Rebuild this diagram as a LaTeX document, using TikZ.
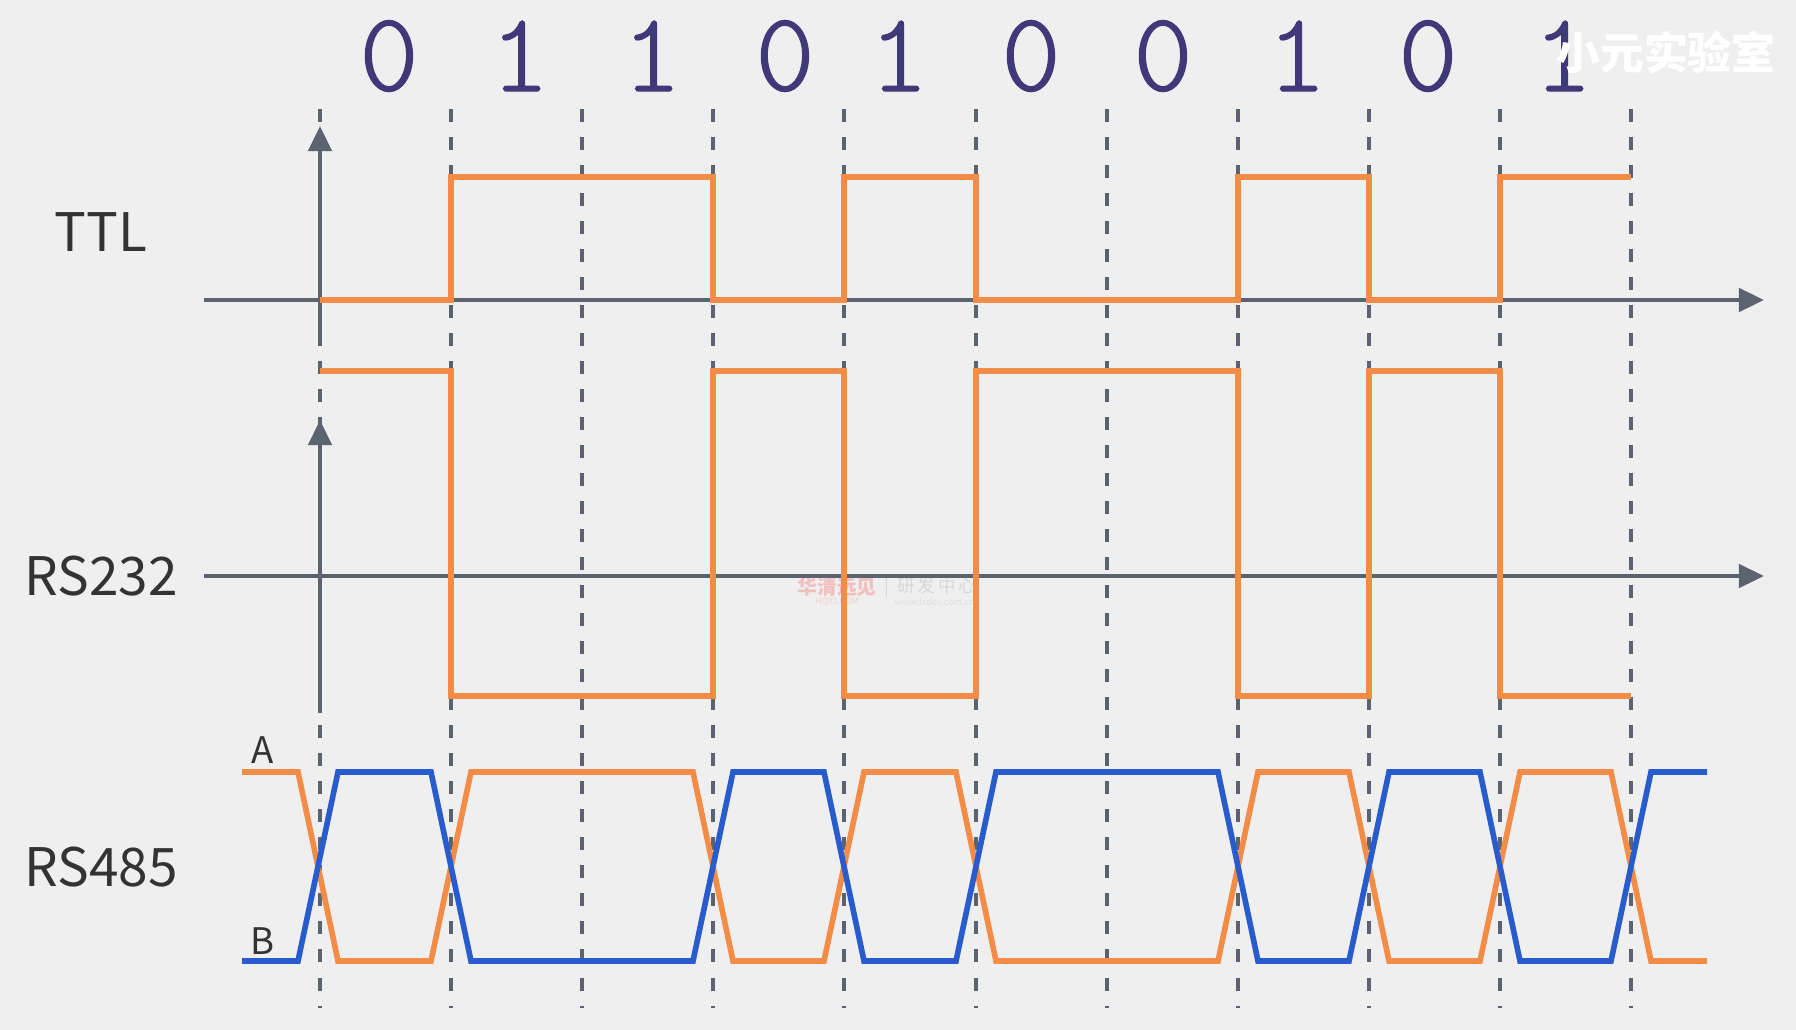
\documentclass[tikz,border=0pt]{standalone}
\usepackage{fontspec}
\setmainfont{Noto Sans CJK SC}
\newfontfamily\bitfont{Latin Modern Mono Light}[FakeBold=1.2]
\usetikzlibrary{arrows.meta}

\definecolor{bggray}{RGB}{239,239,239}
\definecolor{axisgray}{RGB}{91,99,112}
\definecolor{sigorange}{RGB}{242,140,70}
\definecolor{sigblue}{RGB}{40,92,204}
\definecolor{bitpurple}{RGB}{64,56,120}
\definecolor{labelgray}{RGB}{51,51,51}

\begin{document}
\begin{tikzpicture}[x=0.01cm,y=-0.01cm,
  axis/.style={draw=axisgray,line width=1.3pt,-{Triangle[length=0.25cm,width=0.23cm]}},
  gridline/.style={draw=axisgray,line width=0.9pt,dash pattern=on 0.13cm off 0.15cm},
  sigA/.style={draw=sigorange,line width=1.6pt},
  sigB/.style={draw=sigblue,line width=1.6pt},
  bit/.style={text=bitpurple,font=\bitfont\fontsize{32}{34}\selectfont,inner sep=0pt},
  lbl/.style={text=labelgray,font=\fontsize{15.1}{17}\selectfont,inner sep=0pt},
  wire/.style={text=labelgray,font=\fontsize{10.4}{12}\selectfont,inner sep=0pt}]
\fill[bggray] (0,0) rectangle (1796,1030);
\useasboundingbox (0,0) rectangle (1796,1030);

% bit borders
\draw[gridline] (320,109) -- (320,1008);
\draw[gridline] (451,109) -- (451,1008);
\draw[gridline] (582,109) -- (582,1008);
\draw[gridline] (713,109) -- (713,1008);
\draw[gridline] (844,109) -- (844,1008);
\draw[gridline] (976,109) -- (976,1008);
\draw[gridline] (1107,109) -- (1107,1008);
\draw[gridline] (1238,109) -- (1238,1008);
\draw[gridline] (1369,109) -- (1369,1008);
\draw[gridline] (1500,109) -- (1500,1008);
\draw[gridline] (1631,109) -- (1631,1008);

% the bits
\node[bit] (b0) at (389,56) {0};
\node[bit] (b1) at (520,56) {1};
\node[bit] (b2) at (652,56) {1};
\node[bit] (b3) at (785,56) {0};
\node[bit] (b4) at (899,56) {1};
\node[bit] (b5) at (1031,56) {0};
\node[bit] (b6) at (1163,56) {0};
\node[bit] (b7) at (1297,56) {1};
\node[bit] (b8) at (1428,56) {0};
\node[bit] (b9) at (1563,56) {1};

% watermarks
\node[text=white,font=\fontsize{12.5}{14}\selectfont\bfseries,inner sep=0pt] (mark) at (1666,52) {小元实验室};
\node[text=red!20!bggray,font=\fontsize{5.6}{6}\selectfont\bfseries,inner sep=0pt] (markhq) at (837,587) {华清远见};
\node[text=black!10!bggray,font=\fontsize{5}{6}\selectfont,inner sep=0pt,anchor=west] (markdev) at (884,588) {|\ \ 研\,发\,中\,心};
\node[text=red!12!bggray,font=\fontsize{2.6}{3}\selectfont,inner sep=0pt] (markhqurl) at (837,602) {HQYJ.COM};
\node[text=black!7!bggray,font=\fontsize{2.6}{3}\selectfont,inner sep=0pt] (markdevurl) at (935,602) {www.fsdev.com.cn};

% TTL
\node[lbl] (ttl) at (101,232) {TTL};
\coordinate (ttlO) at (320,300);
\draw[axis] (204,300) -- (1764,300);
\draw[axis] (320,343) -- (320,126);
\draw[sigA] (ttlO) -- (451,300) -- (451,177) -- (713,177) -- (713,300) -- (844,300)
  -- (844,177) -- (976,177) -- (976,300) -- (1238,300) -- (1238,177) -- (1369,177)
  -- (1369,300) -- (1500,300) -- (1500,177) -- (1631,177);

% RS232
\node[lbl] (rs232) at (101,576) {RS232};
\draw[axis] (204,576) -- (1764,576);
\draw[axis] (320,713) -- (320,420);
\draw[sigA] (320,371) -- (451,371) -- (451,696) -- (713,696) -- (713,371) -- (844,371)
  -- (844,696) -- (976,696) -- (976,371) -- (1238,371) -- (1238,696) -- (1369,696)
  -- (1369,371) -- (1500,371) -- (1500,696) -- (1631,696);

% RS485, A orange and B blue
\node[lbl] (rs485) at (101,867) {RS485};
\node[wire] (wa) at (263,750) {A};
\node[wire] (wb) at (263,941) {B};
\draw[sigA] (242,772) -- (298,772) -- (338,961) -- (431,961) -- (471,772) -- (693,772)
  -- (733,961) -- (824,961) -- (864,772) -- (956,772) -- (996,961) -- (1218,961)
  -- (1258,772) -- (1349,772) -- (1389,961) -- (1480,961) -- (1520,772) -- (1611,772)
  -- (1651,961) -- (1707,961);
\draw[sigB] (242,961) -- (298,961) -- (338,772) -- (431,772) -- (471,961) -- (693,961)
  -- (733,772) -- (824,772) -- (864,961) -- (956,961) -- (996,772) -- (1218,772)
  -- (1258,961) -- (1349,961) -- (1389,772) -- (1480,772) -- (1520,961) -- (1611,961)
  -- (1651,772) -- (1707,772);

\end{tikzpicture}
\end{document}
